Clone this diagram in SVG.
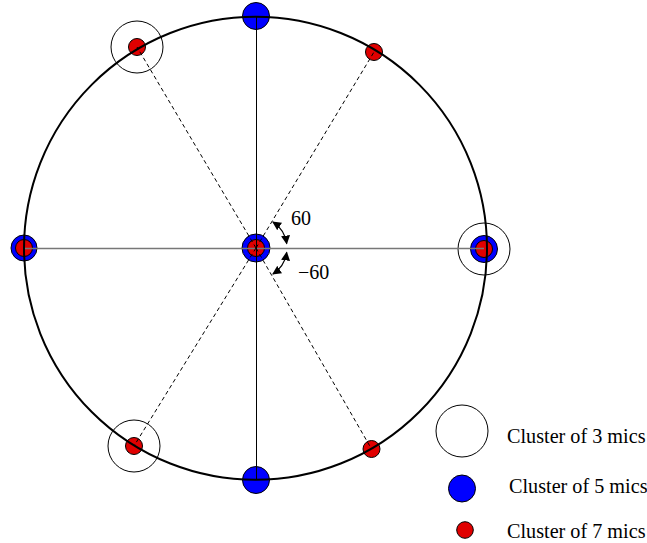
<svg xmlns="http://www.w3.org/2000/svg" width="647" height="543" viewBox="0 0 647 543">
<defs>
<style>
.ring{fill:none;stroke:#000;stroke-width:1}
.blue{fill:#0000ff;stroke:#000;stroke-width:1}
.red{fill:#e00000;stroke:#000;stroke-width:1}
.dash{stroke:#000;stroke-width:1;stroke-dasharray:4,3;fill:none}
.lbl{font-family:"Liberation Serif","Times New Roman",serif;font-size:20px;fill:#000}
.leg{font-family:"Liberation Serif","Times New Roman",serif;font-size:20.2px;fill:#000}
</style>
<marker id="ah" viewBox="0 0 10 10" refX="9" refY="5" markerWidth="9" markerHeight="9" markerUnits="userSpaceOnUse" orient="auto-start-reverse">
<path d="M0,0 L10,5 L0,10 z" fill="#000"/>
</marker>
</defs>
<rect width="647" height="543" fill="#fff"/>
<g id="n-top"><circle class="blue" cx="256" cy="16" r="13.5"/></g>
<g id="n-bottom"><circle class="blue" cx="256" cy="480" r="13.5"/></g>
<g id="n-left"><circle class="blue" cx="24" cy="248" r="13"/><circle class="red" cx="24" cy="248" r="8.5"/></g>
<g id="n-center"><circle class="blue" cx="256" cy="248" r="14"/><circle class="red" cx="256" cy="248" r="8.5"/></g>
<g id="n-right"><circle class="ring" cx="484" cy="249" r="26"/><circle class="blue" cx="484" cy="249" r="13.5"/><circle class="red" cx="484" cy="249" r="8.5"/></g>
<g id="n-topleft"><circle class="ring" cx="137" cy="47" r="26"/><circle class="red" cx="137" cy="47" r="8.5"/></g>
<g id="n-topright"><circle class="red" cx="374" cy="52" r="8.5"/></g>
<g id="n-bottomleft"><circle class="ring" cx="134" cy="446" r="26"/><circle class="red" cx="134" cy="446" r="8.5"/></g>
<g id="n-bottomright"><circle class="red" cx="371.5" cy="449" r="8.5"/></g>
<g id="connectors">
<line x1="24" y1="248.5" x2="484" y2="248.5" stroke="#777" stroke-width="1.5"/>
<line x1="256.5" y1="16" x2="256.5" y2="480" stroke="#000" stroke-width="1"/>
<line class="dash" x1="256" y1="248" x2="137" y2="47"/>
<line class="dash" x1="256" y1="248" x2="374" y2="52"/>
<line class="dash" x1="256" y1="248" x2="134" y2="446"/>
<line class="dash" x1="256" y1="248" x2="371.5" y2="449"/>
<circle cx="255.5" cy="248.3" r="231.5" fill="none" stroke="#000" stroke-width="2"/>
<path d="M272.9,222 A31,31 0 0 1 286.7,243.7" fill="none" stroke="#000" stroke-width="1.2" marker-start="url(#ah)" marker-end="url(#ah)"/>
<path d="M286.7,252.3 A31,31 0 0 1 272.9,274" fill="none" stroke="#000" stroke-width="1.2" marker-start="url(#ah)" marker-end="url(#ah)"/>
</g>
<text class="lbl" x="291" y="225">60</text>
<text class="lbl" x="298" y="279">−60</text>
<g id="legend">
<circle class="ring" cx="462" cy="431" r="26"/>
<circle class="blue" cx="462" cy="488.5" r="13.5"/>
<circle class="red" cx="465" cy="530" r="8.3"/>
<text class="leg" x="507" y="443">Cluster of 3 mics</text>
<text class="leg" x="509" y="492.5">Cluster of 5 mics</text>
<text class="leg" x="507" y="538">Cluster of 7 mics</text>
</g>
</svg>
